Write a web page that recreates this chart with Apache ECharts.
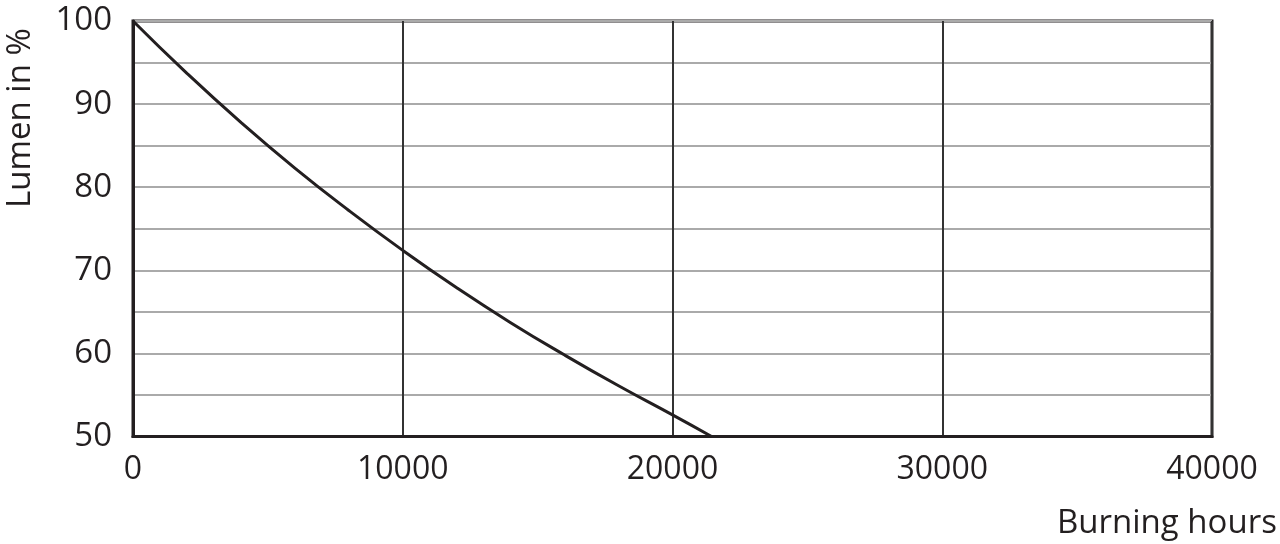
<!DOCTYPE html>
<html>
<head>
<meta charset="utf-8">
<script src="https://cdn.jsdelivr.net/npm/echarts@6/dist/echarts.min.js"></script>
<style>
html,body{margin:0;padding:0;background:#fff;}
#chart{width:1280px;height:544px;}
</style>
</head>
<body>
<div id="chart"></div>
<script>
// Data
var hours  = [0, 2000, 4000, 6000, 8000, 10000, 12000, 14000, 16000, 18000, 20000, 21450];
var lumen  = [100, 93.7, 87.8, 82.3, 77.2, 72.4, 67.9, 63.7, 59.8, 56.1, 52.6, 50];
var xTicks = [0, 10000, 20000, 30000, 40000];
var yTicks = [50, 60, 70, 80, 90, 100];
var xTitle = 'Burning hours';
var yTitle = 'Lumen in %';

var ink = '#231f20';
var font = '"Open Sans", "Noto Sans", sans-serif';
var points = hours.map(function (h, i) { return [h, lumen[i]]; });

var chart = echarts.init(document.getElementById('chart'), null, {renderer: 'canvas'});
chart.setOption({
  animation: false,
  backgroundColor: '#ffffff',
  grid: {
    left: 133, right: 68, top: 21, bottom: 107.5,
    show: true, borderColor: ink, borderWidth: 3, backgroundColor: 'transparent'
  },
  xAxis: {
    type: 'value', min: xTicks[0], max: xTicks[xTicks.length - 1], interval: 10000,
    axisLine: {show: true, lineStyle: {color: ink, width: 3}},
    axisTick: {show: false},
    axisLabel: {
      color: ink, fontSize: 32, fontFamily: font, margin: 17,
      formatter: function (v) { return xTicks.indexOf(v) >= 0 ? String(v) : ''; }
    },
    splitLine: {show: true, lineStyle: {color: '#333333', width: 2}}
  },
  yAxis: {
    type: 'value', min: yTicks[0], max: yTicks[yTicks.length - 1], interval: 5,
    axisLine: {show: true, lineStyle: {color: ink, width: 3}},
    axisTick: {show: false},
    axisLabel: {
      color: ink, fontSize: 33, fontFamily: font, margin: 21,
      formatter: function (v) { return yTicks.indexOf(v) >= 0 ? String(v) : ''; }
    },
    splitLine: {show: true, lineStyle: {color: '#aaaaaa', width: 2}}
  },
  graphic: [
    {
      type: 'text', left: 1057, top: 507,
      style: {text: xTitle, fill: ink, font: '33px ' + font}
    },
    {
      type: 'text', x: 4, y: 208, rotation: Math.PI / 2,
      style: {text: yTitle, fill: ink, font: '33px ' + font, textAlign: 'left', textVerticalAlign: 'top'}
    }
  ],
  series: [{
    type: 'line',
    data: points,
    smooth: 0.5,
    showSymbol: false,
    lineStyle: {color: ink, width: 3},
    z: 5
  }]
});
</script>
</body>
</html>
